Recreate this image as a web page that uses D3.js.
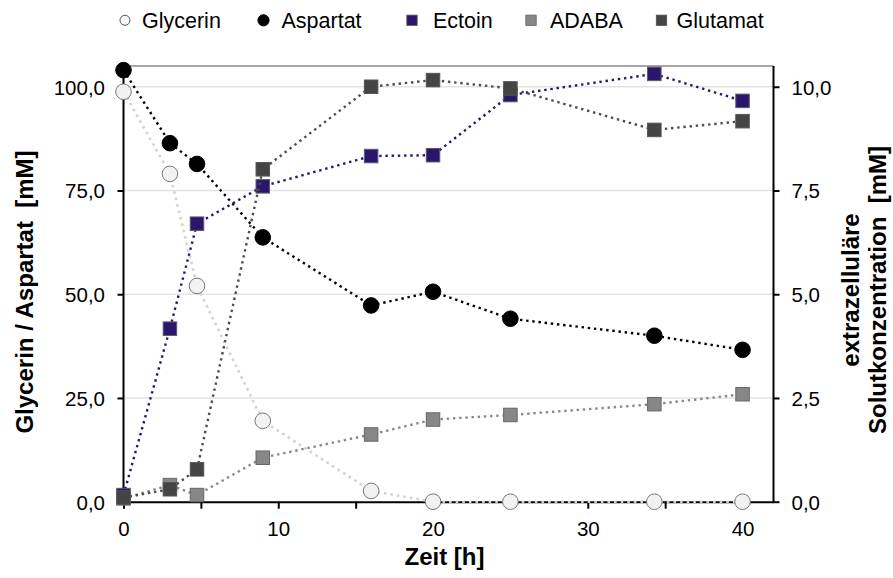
<!DOCTYPE html>
<html>
<head>
<meta charset="utf-8">
<script src="https://cdn.jsdelivr.net/npm/d3@7"></script>
<style>
  html, body { margin: 0; padding: 0; background: #fff; }
  svg { display: block; font-family: "Liberation Sans", Arial, sans-serif; }
</style>
</head>
<body>
<svg id="chart" width="893" height="578"></svg>
<script>
// Sampling times [h]
const zeit = [0, 3, 4.75, 9, 16, 20, 25, 34.3, 40];

// Left axis (mM)
const glycerin = [98.8, 79.0, 52.0, 19.5, 2.6, 0, 0, 0, 0];
const aspartat = [104.0, 86.4, 81.4, 63.7, 47.3, 50.6, 44.1, 40.0, 36.6];

// Right axis (mM), extracellular solutes
const ectoin   = [0.16, 4.17, 6.70, 7.60, 8.33, 8.35, 9.80, 10.31, 9.66];
const adaba    = [0.08, 0.40, 0.16, 1.06, 1.62, 1.98, 2.09, 2.35, 2.59];
const glutamat = [0.10, 0.30, 0.78, 8.01, 10.00, 10.16, 9.96, 8.96, 9.17];

const xTicks = [0, 5, 10, 15, 20, 25, 30, 35, 40];
const xTickLabels = [0, 10, 20, 30, 40];
const leftTicks = [0, 25, 50, 75, 100];
const rightTicks = [0, 2.5, 5, 7.5, 10];

const legendNames = ["Glycerin", "Aspartat", "Ectoin", "ADABA", "Glutamat"];

const svg = d3.select("#chart");
const margin = { left: 123.5, right: 119.5, top: 66, bottom: 76.3 };
const W = 893, H = 578;
const x0 = margin.left, x1 = W - margin.right;
const y0 = H - margin.bottom, y1 = margin.top;

const x = d3.scaleLinear().domain([0, 42]).range([x0, x1]);
const yL = d3.scaleLinear().domain([0, 105]).range([y0, y1]);
const yR = d3.scaleLinear().domain([0, 10.5]).range([y0, y1]);

const de = d3.formatLocale({ decimal: ",", thousands: ".", grouping: [3], currency: ["", " €"] });
const f1 = de.format(".1f");

// Horizontal gridlines
svg.append("g").selectAll("line").data(leftTicks.filter(d => d > 0)).join("line")
  .attr("x1", x0).attr("x2", x1)
  .attr("y1", d => yL(d)).attr("y2", d => yL(d))
  .attr("stroke", "#e3e3e3").attr("stroke-width", 1.5);

// Top frame line
svg.append("line").attr("x1", x0).attr("x2", x1).attr("y1", y1).attr("y2", y1)
  .attr("stroke", "#8a8a8a").attr("stroke-width", 1.5);

// Axes
const axisFont = 20.5;
const gx = svg.append("g").attr("transform", `translate(0,${y0})`)
  .call(d3.axisBottom(x).tickValues(xTicks).tickSize(7).tickSizeOuter(0)
    .tickFormat(d => xTickLabels.includes(d) ? d : ""));
const gl = svg.append("g").attr("transform", `translate(${x0},0)`)
  .call(d3.axisLeft(yL).tickValues(leftTicks).tickSize(6).tickSizeOuter(0).tickFormat(f1));
const gr = svg.append("g").attr("transform", `translate(${x1},0)`)
  .call(d3.axisRight(yR).tickValues(rightTicks).tickSize(6).tickSizeOuter(0).tickFormat(f1));

[gx, gl, gr].forEach(g => {
  g.select(".domain").attr("stroke", "#000").attr("stroke-width", 2);
  g.selectAll(".tick line").attr("stroke", "#000").attr("stroke-width", 2);
  g.selectAll(".tick text").attr("font-size", axisFont).attr("fill", "#000")
    .attr("font-family", "Liberation Sans, Arial, sans-serif");
});
gx.selectAll(".tick text").attr("dy", null).attr("y", 0).attr("transform", "translate(0,34.5)");
gl.selectAll(".tick text").attr("x", -18.5).attr("dy", "0.36em");
gr.selectAll(".tick text").attr("x", 18).attr("dy", "0.36em");
// Extend the axis lines over the full plot height
gl.select(".domain").attr("d", `M0,${y0}V${y1}`);
gr.select(".domain").attr("d", `M0,${y0}V${y1}`);

// Series definitions
const series = [
  { name: "Glycerin", values: glycerin, y: yL, shape: "circle", fill: "#f2f2f2", stroke: "#777", line: "#d2d2d2", lw: 2.6, dash: "2.6,4" },
  { name: "Aspartat", values: aspartat, y: yL, shape: "circle", fill: "#000", stroke: "#000", line: "#000", lw: 2.4, dash: "2.4,3.8" },
  { name: "Ectoin", values: ectoin, y: yR, shape: "square", fill: "#2a166c", stroke: "#5a5a6a", line: "#2a166c", lw: 2.4, dash: "2.4,3.8" },
  { name: "ADABA", values: adaba, y: yR, shape: "square", fill: "#878787", stroke: "#666", line: "#888", lw: 2.4, dash: "2.4,3.8" },
  { name: "Glutamat", values: glutamat, y: yR, shape: "square", fill: "#444", stroke: "#555", line: "#4d4d4d", lw: 2.4, dash: "2.4,3.8" }
];

const plot = svg.append("g");
series.forEach(s => {
  const pts = zeit.map((t, i) => [t, s.values[i]]);
  const line = d3.line().x(d => x(d[0])).y(d => s.y(d[1]));
  const g = plot.append("g");
  g.append("path").attr("d", line(pts)).attr("fill", "none")
    .attr("stroke", s.line).attr("stroke-width", s.lw).attr("stroke-dasharray", s.dash);
  if (s.shape === "circle") {
    g.selectAll("circle").data(pts).join("circle")
      .attr("cx", d => x(d[0])).attr("cy", d => s.y(d[1])).attr("r", 7.8)
      .attr("fill", s.fill).attr("stroke", s.stroke).attr("stroke-width", 1);
  } else {
    const side = 13.5;
    g.selectAll("rect").data(pts).join("rect")
      .attr("x", d => x(d[0]) - side / 2).attr("y", d => s.y(d[1]) - side / 2)
      .attr("width", side).attr("height", side)
      .attr("fill", s.fill).attr("stroke", s.stroke).attr("stroke-width", 1);
  }
});

// Axis titles
svg.append("text").attr("x", (x0 + x1) / 2 - 4).attr("y", 565)
  .attr("text-anchor", "middle").attr("font-size", 24).attr("font-weight", "bold")
  .text("Zeit [h]");
svg.append("text").attr("transform", "translate(33,292) rotate(-90)")
  .attr("text-anchor", "middle").attr("font-size", 24).attr("font-weight", "bold")
  .attr("xml:space", "preserve")
  .text("Glycerin / Aspartat  [mM]");
const rt = svg.append("text").attr("transform", "translate(858.5,290) rotate(-90)")
  .attr("text-anchor", "middle").attr("font-size", 24).attr("font-weight", "bold")
  .attr("xml:space", "preserve");
rt.append("tspan").attr("x", 0).attr("dy", 0).text("extrazelluläre");
rt.append("tspan").attr("x", 0).attr("dy", 27).text("Solutkonzentration  [mM]");

// Legend
const legendPos = [
  { mx: 125, tx: 142 },
  { mx: 263.5, tx: 281.5 },
  { mx: 412, tx: 433 },
  { mx: 531, tx: 550 },
  { mx: 661.5, tx: 676.5 }
];
const lg = svg.append("g");
series.forEach((s, i) => {
  const p = legendPos[i];
  if (s.shape === "circle") {
    lg.append("circle").attr("cx", p.mx).attr("cy", 20.3)
      .attr("r", s.name === "Glycerin" ? 5 : 5.6)
      .attr("fill", s.name === "Glycerin" ? "#f7f7f7" : "#000")
      .attr("stroke", s.name === "Glycerin" ? "#555" : "#000").attr("stroke-width", 1);
  } else {
    lg.append("rect").attr("x", p.mx - 5.2).attr("y", 20.3 - 5.2)
      .attr("width", 10.4).attr("height", 10.4)
      .attr("fill", s.fill).attr("stroke", s.stroke).attr("stroke-width", 0.8);
  }
  lg.append("text").attr("x", p.tx).attr("y", 28.3).attr("font-size", 21.5)
    .text(legendNames[i]);
});
</script>
</body>
</html>
